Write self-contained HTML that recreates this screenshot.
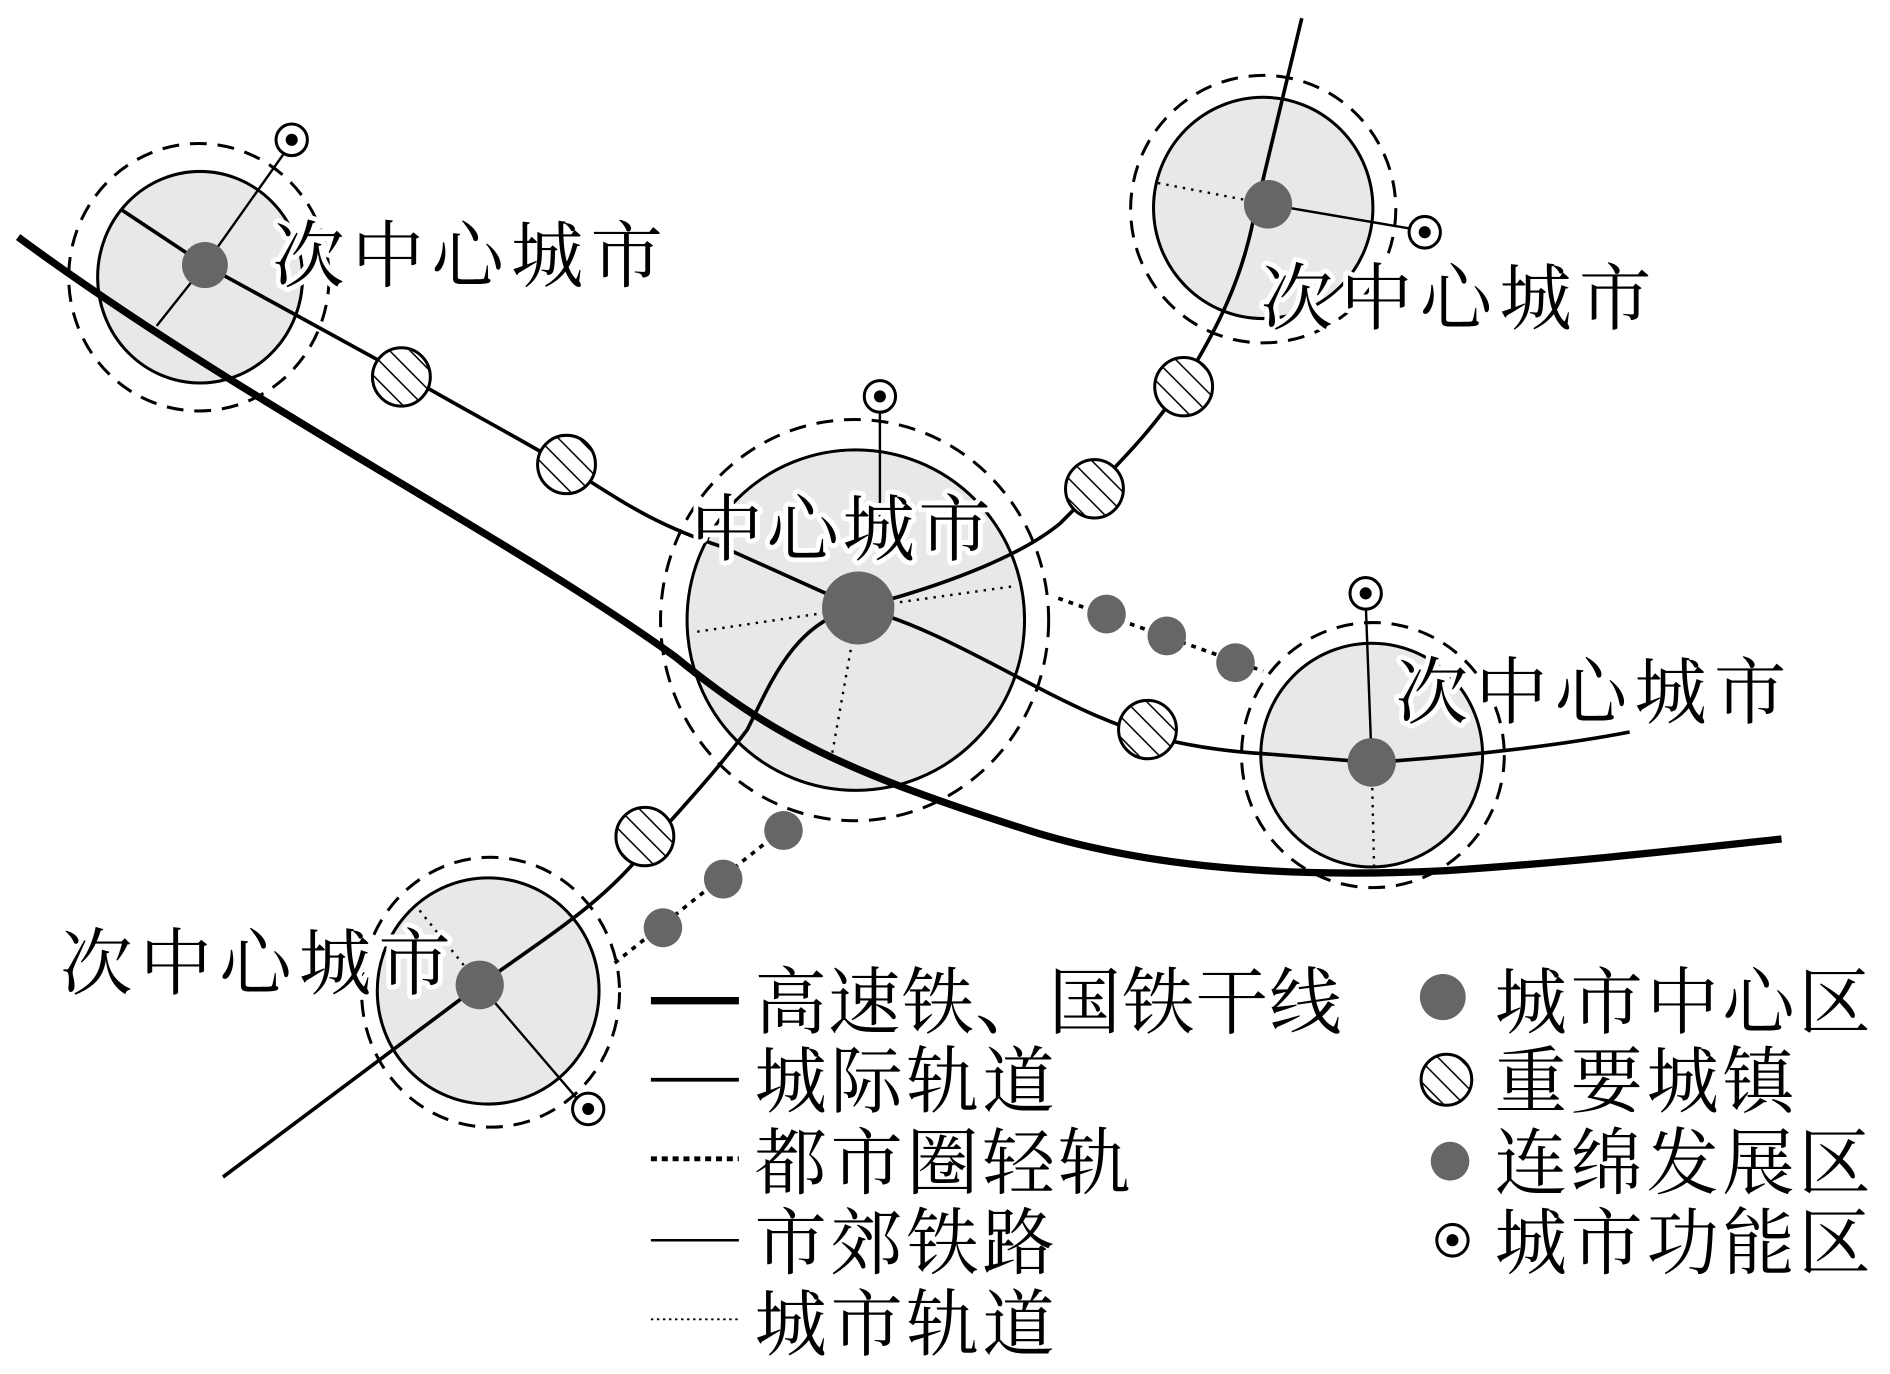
<!DOCTYPE html>
<html><head><meta charset="utf-8"><style>
html,body{margin:0;padding:0;background:#fff;}
svg{display:block;}
text{font-family:"Liberation Serif","Noto Serif CJK SC",serif;font-size:60px;fill:#000;}
.halo{stroke:#fff;stroke-width:8;paint-order:stroke;stroke-linejoin:round;}
</style></head><body>
<svg width="1890" height="1374" viewBox="0 0 1568 1130" preserveAspectRatio="none" xmlns="http://www.w3.org/2000/svg">
<defs>
<pattern id="h" width="12" height="12" patternUnits="userSpaceOnUse" patternTransform="rotate(-45)">
<rect width="12" height="12" fill="#fff"/><line x1="0" y1="0" x2="0" y2="12" stroke="#000" stroke-width="2.5"/>
</pattern>
</defs>
<rect width="1568" height="1130" fill="#fff"/>
<g fill="none" stroke="#000" stroke-width="2.5" stroke-dasharray="14 9">
<ellipse cx="165" cy="228" rx="108" ry="110"/>
<ellipse cx="1048" cy="172" rx="110" ry="110"/>
<ellipse cx="709" cy="510" rx="161" ry="165"/>
<ellipse cx="1139" cy="621" rx="109" ry="109"/>
<ellipse cx="407" cy="816" rx="107" ry="111"/>
</g>
<g fill="#e8e8e8" stroke="#000" stroke-width="2.5">
<ellipse cx="166" cy="228" rx="85" ry="87"/>
<ellipse cx="1048" cy="171" rx="91" ry="91"/>
<ellipse cx="710" cy="510" rx="140" ry="140"/>
<ellipse cx="1138" cy="621" rx="92" ry="92"/>
<ellipse cx="405" cy="815" rx="92" ry="93"/>
</g>
<g fill="none" stroke="#000" stroke-width="2" stroke-dasharray="2 5">
<line x1="712" y1="500" x2="575" y2="520"/>
<line x1="712" y1="500" x2="842" y2="482"/>
<line x1="712" y1="500" x2="690" y2="622"/>
<line x1="1052" y1="168" x2="958" y2="150"/>
<line x1="1138" y1="627" x2="1140" y2="714"/>
<line x1="398" y1="810" x2="345" y2="745"/>
</g>
<g fill="none" stroke="#000" stroke-width="2">
<polyline points="130,268 170,218 240,120"/>
<line x1="730" y1="330" x2="730" y2="460"/>
<line x1="1052" y1="168" x2="1170" y2="188"/>
<line x1="1133" y1="495" x2="1138" y2="627"/>
<line x1="398" y1="810" x2="480" y2="905"/>
</g>
<path d="M15,195 C200,330 420,440 560,540 C640,605 700,635 860,685 C960,715 1080,722 1200,716 C1320,708 1420,696 1478,690" fill="none" stroke="#000" stroke-width="6"/>
<g fill="none" stroke="#000" stroke-width="3">
<path d="M100,172 L170,218 L330,305 C390,340 440,365 480,390 C520,415 545,432 600,450 L712,500"/>
<path d="M712,500 C760,510 820,545 870,570 C930,600 970,615 1050,620 L1138,627 C1220,622 1300,612 1352,602"/>
<path d="M712,500 C790,480 850,455 880,430 C930,380 960,350 985,310 C1010,270 1030,230 1040,180 L1080,15"/>
<path d="M712,500 C660,510 640,560 620,600 C590,640 560,670 530,705 C500,740 470,760 398,810 L185,968"/>
</g>
<g fill="none" stroke="#000" stroke-width="3" stroke-dasharray="4 5">
<line x1="878" y1="492" x2="1048" y2="552"/>
<line x1="510" y1="792" x2="662" y2="672"/>
</g>
<g fill="#666">
<circle cx="170" cy="218" r="19"/>
<circle cx="1052" cy="168" r="20"/>
<circle cx="712" cy="500" r="30"/>
<circle cx="1138" cy="627" r="20"/>
<circle cx="398" cy="810" r="20"/>
<circle cx="918" cy="505" r="16"/><circle cx="968" cy="523" r="16"/><circle cx="1025" cy="545" r="16"/>
<circle cx="650" cy="683" r="16"/><circle cx="600" cy="723" r="16"/><circle cx="550" cy="763" r="16"/>
</g>
<g fill="url(#h)" stroke="#000" stroke-width="2.5">
<circle cx="333" cy="310" r="24"/>
<circle cx="470" cy="382" r="24"/>
<circle cx="982" cy="318" r="24"/>
<circle cx="908" cy="402" r="24"/>
<circle cx="952" cy="600" r="24"/>
<circle cx="535" cy="688" r="24"/>
</g>
<g fill="#fff" stroke="#000" stroke-width="2.5">
<circle cx="242" cy="115" r="13"/><circle cx="730" cy="326" r="13"/><circle cx="1182" cy="191" r="13"/>
<circle cx="1133" cy="488" r="13"/><circle cx="488" cy="912" r="13"/>
</g>
<g fill="#000">
<circle cx="242" cy="115" r="5"/><circle cx="730" cy="326" r="5"/><circle cx="1182" cy="191" r="5"/>
<circle cx="1133" cy="488" r="5"/><circle cx="488" cy="912" r="5"/>
</g>
<text class="halo" x="226" y="231" letter-spacing="6">次中心城市</text>
<text class="halo" x="1046" y="266" letter-spacing="6">次中心城市</text>
<text class="halo" x="573" y="456" letter-spacing="3">中心城市</text>
<text class="halo" x="1158" y="590" letter-spacing="6">次中心城市</text>
<text class="halo" x="50" y="813" letter-spacing="6">次中心城市</text>
<line x1="540" y1="823" x2="613" y2="823" stroke="#000" stroke-width="6"/>
<line x1="540" y1="888" x2="613" y2="888" stroke="#000" stroke-width="3"/>
<line x1="540" y1="953" x2="613" y2="953" stroke="#000" stroke-width="4" stroke-dasharray="5 4"/>
<line x1="540" y1="1020" x2="613" y2="1020" stroke="#000" stroke-width="2"/>
<line x1="540" y1="1085" x2="613" y2="1085" stroke="#000" stroke-width="1.5" stroke-dasharray="2 3"/>
<g style="font-size:62px">
<text x="626" y="845" letter-spacing="1">高速铁、国铁干线</text>
<text x="626" y="910" letter-spacing="3">城际轨道</text>
<text x="626" y="977" letter-spacing="3">都市圈轻轨</text>
<text x="626" y="1043" letter-spacing="3">市郊铁路</text>
<text x="626" y="1110" letter-spacing="3">城市轨道</text>
<text x="1240" y="845" letter-spacing="3">城市中心区</text>
<text x="1240" y="910" letter-spacing="3">重要城镇</text>
<text x="1240" y="977" letter-spacing="3">连绵发展区</text>
<text x="1240" y="1043" letter-spacing="3">城市功能区</text>
</g>
<circle cx="1197" cy="820" r="19" fill="#666"/>
<circle cx="1200" cy="888" r="21" fill="url(#h)" stroke="#000" stroke-width="2.5"/>
<circle cx="1203" cy="955" r="16" fill="#666"/>
<circle cx="1205" cy="1020" r="13" fill="#fff" stroke="#000" stroke-width="2.5"/>
<circle cx="1205" cy="1020" r="5" fill="#000"/>
</svg>
</body></html>
